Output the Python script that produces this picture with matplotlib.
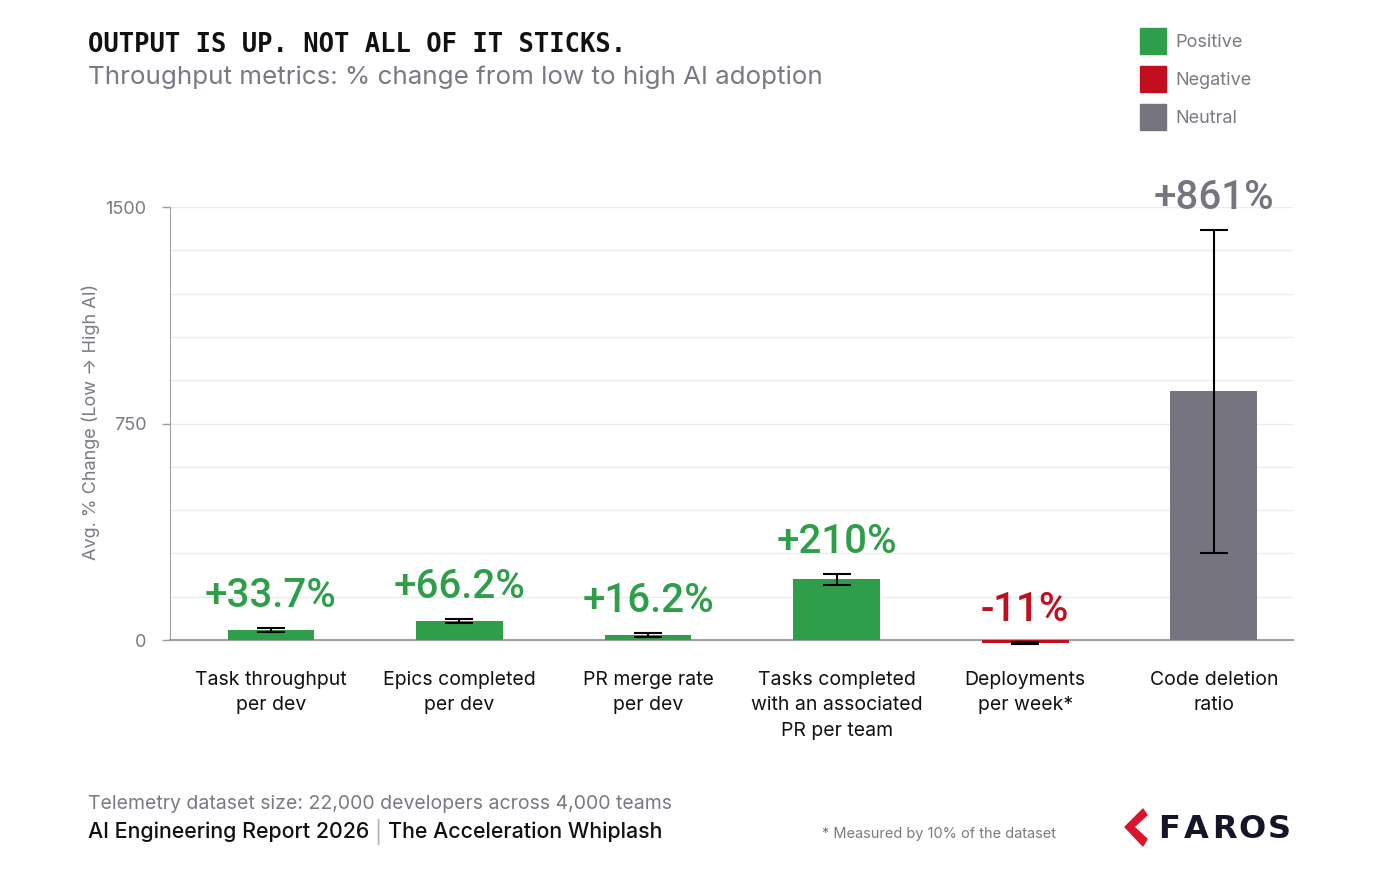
import matplotlib.pyplot as plt
from matplotlib.lines import Line2D
from matplotlib.patches import Polygon
import numpy as np

categories = ["Task throughput\nper dev", "Epics completed\nper dev", "PR merge rate\nper dev",
              "Tasks completed\nwith an associated\nPR per team", "Deployments\nper week*",
              "Code deletion\nratio"]
values = [33.7, 66.2, 16.2, 210, -11, 861]
errors = [7, 7, 7, 18, 4, 560]
value_labels = ["+33.7%", "+66.2%", "+16.2%", "+210%", "-11%", "+861%"]
kinds = ["Positive", "Positive", "Positive", "Positive", "Negative", "Neutral"]

colors = {"Positive": "#2f9e4a", "Negative": "#c10f1f", "Neutral": "#76747f"}
GRAY = "#7a7984"
DARK = "#111111"

plt.rcParams['font.family'] = ['Inter', 'DejaVu Sans']

fig = plt.figure(figsize=(13.92, 8.96), dpi=100)
ax = fig.add_axes([170 / 1392, 1 - 645.8 / 896, (1293 - 170) / 1392, (645.8 - 207) / 896])

x = np.arange(len(values))
bar_colors = [colors[k] for k in kinds]
ax.bar(x, values, width=0.46, color=bar_colors, zorder=3)
ax.errorbar(x, values, yerr=errors, fmt='none', ecolor='black', elinewidth=1.5,
            capsize=10, capthick=1.5, zorder=4)

for xi, v, e, lab, c in zip(x, values, errors, value_labels, bar_colors):
    top = v + e
    ax.annotate(lab, (xi, top), xytext=(0, 15), textcoords='offset points',
                ha='center', va='baseline', fontsize=29, family='Roboto', weight='medium',
                color=c, annotation_clip=False)

# category labels under the axis
for xi, cat in zip(x, categories):
    ax.annotate(cat, (xi, 0), xytext=(0, -22), textcoords='offset points',
                ha='center', va='top', fontsize=14, color=DARK, linespacing=1.55,
                annotation_clip=False)

ax.set_xlim(-0.535, 5.42)
ax.set_ylim(-20, 1500)
ax.set_yticks([0, 750, 1500])
ax.set_yticks(np.arange(150, 1500, 150), minor=True)
ax.grid(axis='y', which='both', color='#ebebee', linewidth=1, zorder=0)
ax.tick_params(axis='y', which='major', colors='#a0a0a8', labelcolor=GRAY, labelsize=13,
               length=6, width=1, pad=11)
ax.tick_params(axis='y', which='minor', length=0)
ax.set_xticks([])

for s in ['top', 'right']:
    ax.spines[s].set_visible(False)
ax.spines['left'].set_bounds(0, 1500)
ax.spines['left'].set_color('#a0a0a8')
ax.spines['bottom'].set_position(('data', 0))
ax.spines['bottom'].set_color('#a0a0a8')
ax.spines['bottom'].set_linewidth(1.5)
ax.set_ylabel("Avg. % Change (Low → High AI)", fontsize=13, color=GRAY)
ax.yaxis.set_label_coords(-0.062, 0.51)

# titles
fig.text(88 / 1392, 1 - 45 / 896, "OUTPUT IS UP. NOT ALL OF IT STICKS.", fontsize=18.4,
         family='DejaVu Sans Mono', weight='bold', color=DARK, va='center')
fig.text(88 / 1392, 1 - 77 / 896, "Throughput metrics: % change from low to high AI adoption",
         fontsize=18.7, color=GRAY, va='center')

# legend
handles = [Line2D([], [], marker='s', linestyle='none', markersize=19,
                  markerfacecolor=colors[k], markeredgecolor=colors[k]) for k in colors]
leg = fig.legend(handles, list(colors.keys()), loc='upper left',
                 bbox_to_anchor=(1128 / 1392, 1 - 27 / 896), frameon=False,
                 fontsize=13, labelspacing=1.17, handletextpad=0.2, borderaxespad=0)
for t in leg.get_texts():
    t.set_color(GRAY)

# footer
fig.text(88 / 1392, 1 - 804 / 896, "Telemetry dataset size: 22,000 developers across 4,000 teams",
         fontsize=14, color=GRAY, va='center')
t1 = fig.text(88 / 1392, 1 - 832 / 896, "AI Engineering Report 2026 ", fontsize=15.4,
              color=DARK, weight='medium', va='center')
fig.canvas.draw()
r = fig.canvas.get_renderer()
bb = t1.get_window_extent(r)
t2 = fig.text(bb.x1 / 1392, 1 - 832 / 896, "| ", fontsize=15.4, color='#b0b0b8', va='center')
bb2 = t2.get_window_extent(r)
fig.text(bb2.x1 / 1392, 1 - 832 / 896, "The Acceleration Whiplash", fontsize=15.4,
         color=DARK, weight='medium', va='center')
fig.text(822 / 1392, 1 - 834 / 896, "* Measured by 10% of the dataset", fontsize=10.5,
         color=GRAY, va='center')

# logo
chev = [(1143, 809), (1125, 827), (1143, 846), (1147, 839), (1134, 827), (1147, 815)]
fig.add_artist(Polygon([(px / 1392, 1 - py / 896) for px, py in chev], closed=True,
                       transform=fig.transFigure, color='#d9142b'))
for i, ch in enumerate("FAROS"):
    fig.text((1155 + 13.8 + i * 27.6) / 1392, 1 - 829 / 896, ch, fontsize=23,
             family='DejaVu Sans', weight='bold', color='#151528', va='center', ha='center')

fig.savefig("out.png", dpi=100)
